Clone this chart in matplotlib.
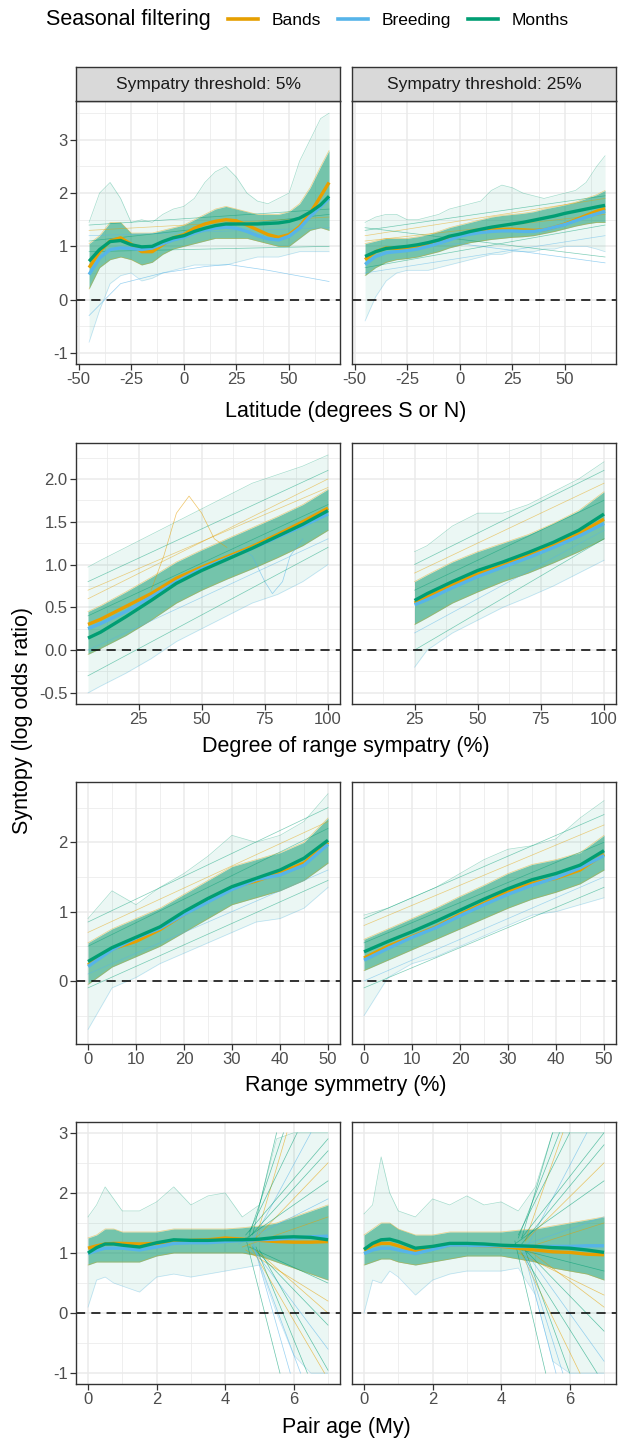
import matplotlib
matplotlib.use('Agg')
import matplotlib.pyplot as plt
from matplotlib.lines import Line2D
import numpy as np

plt.rcParams['font.family'] = ['Liberation Sans', 'DejaVu Sans']

# ---------------- data ----------------
SERIES = ['Bands', 'Breeding', 'Months']
COLORS = {'Bands': '#E69F00', 'Breeding': '#56B4E9', 'Months': '#009E73'}
STRIPS = ['Sympatry threshold: 5%', 'Sympatry threshold: 25%']
XLABELS = ['Latitude (degrees S or N)', 'Degree of range sympatry (%)',
           'Range symmetry (%)', 'Pair age (My)']
YLABEL = 'Syntopy (log odds ratio)'

# Row 1: latitude
lat_x = [-45, -40, -35, -30, -25, -20, -15, -10, -5, 0, 5, 10, 15, 20, 25, 30,
         35, 40, 45, 50, 55, 60, 65, 69]
lat5_bands = [0.6, 0.9, 1.1, 1.16, 1.04, 0.9, 0.9, 1.03, 1.16, 1.22, 1.34, 1.42, 1.47,
              1.5, 1.48, 1.4, 1.31, 1.22, 1.17, 1.22, 1.37, 1.62, 1.94, 2.2]
lat5_breeding = [0.47, 0.78, 0.94, 0.97, 0.96, 0.94, 0.97, 1.05, 1.12, 1.17, 1.25, 1.31,
                 1.34, 1.36, 1.34, 1.28, 1.2, 1.14, 1.12, 1.19, 1.34, 1.56, 1.75, 1.9]
lat5_months = [0.72, 0.94, 1.09, 1.11, 1.03, 0.99, 1.0, 1.09, 1.16, 1.2, 1.28, 1.34, 1.39,
               1.42, 1.42, 1.42, 1.42, 1.43, 1.44, 1.47, 1.53, 1.64, 1.78, 1.94]
lat5_core_lo = [0.2, 0.6, 0.75, 0.8, 0.75, 0.65, 0.7, 0.85, 0.95, 1.0, 1.05, 1.1, 1.15,
                1.15, 1.15, 1.15, 1.1, 1.05, 1.0, 1.0, 1.15, 1.3, 1.35, 1.3]
lat5_core_hi = [1.05, 1.2, 1.45, 1.45, 1.25, 1.25, 1.25, 1.3, 1.35, 1.4, 1.5, 1.6, 1.7,
                1.75, 1.7, 1.65, 1.6, 1.6, 1.6, 1.65, 1.8, 2.1, 2.5, 2.8]
lat5_out_lo = [-0.8, -0.2, 0.3, 0.45, 0.5, 0.35, 0.4, 0.5, 0.55, 0.6, 0.65, 0.65, 0.65,
               0.65, 0.7, 0.75, 0.8, 0.8, 0.8, 0.85, 0.9, 0.9, 0.9, 0.9]
lat5_out_hi = [1.45, 2.0, 2.2, 1.9, 1.45, 1.5, 1.45, 1.6, 1.7, 1.75, 1.9, 2.2, 2.4, 2.5,
               2.3, 2.0, 1.85, 1.8, 1.9, 2.0, 2.6, 3.0, 3.4, 3.5]
lat5_extra_x = [-45, -30, -10, 10, 21, 40, 69]
lat5_extra_y = [-0.3, 0.3, 0.5, 0.62, 0.66, 0.55, 0.34]
lat5_thin_y0 = [1.4, 1.3, 0.9, 1.2, 1.1]
lat5_thin_y1 = [1.7, 1.55, 1.0, 1.35, 1.6]

lat25_bands = [0.75, 0.9, 0.97, 0.96, 0.96, 0.98, 1.03, 1.09, 1.16, 1.22, 1.27, 1.3, 1.32,
               1.32, 1.32, 1.31, 1.3, 1.31, 1.36, 1.42, 1.5, 1.58, 1.66, 1.71]
lat25_breeding = [0.66, 0.81, 0.88, 0.9, 0.92, 0.95, 1.0, 1.06, 1.12, 1.19, 1.23, 1.26,
                  1.28, 1.29, 1.29, 1.28, 1.28, 1.31, 1.36, 1.41, 1.48, 1.55, 1.61, 1.66]
lat25_months = [0.81, 0.9, 0.96, 0.98, 1.0, 1.03, 1.07, 1.12, 1.19, 1.23, 1.28, 1.32, 1.36,
                1.39, 1.42, 1.45, 1.49, 1.53, 1.57, 1.62, 1.66, 1.7, 1.74, 1.77]
lat25_core_lo = [0.45, 0.6, 0.7, 0.75, 0.77, 0.8, 0.85, 0.9, 0.97, 1.02, 1.07, 1.1, 1.13,
                 1.15, 1.17, 1.18, 1.2, 1.24, 1.28, 1.33, 1.38, 1.42, 1.45, 1.45]
lat25_core_hi = [1.05, 1.1, 1.15, 1.15, 1.15, 1.18, 1.22, 1.28, 1.35, 1.4, 1.45, 1.5, 1.55,
                 1.58, 1.6, 1.62, 1.65, 1.7, 1.74, 1.78, 1.83, 1.9, 1.97, 2.05]
lat25_out_lo = [-0.4, 0.05, 0.35, 0.5, 0.55, 0.55, 0.55, 0.6, 0.65, 0.7, 0.75, 0.8, 0.85,
                0.85, 0.9, 0.9, 0.9, 0.95, 0.95, 1.0, 1.0, 1.0, 0.95, 0.9]
lat25_out_hi = [1.45, 1.55, 1.6, 1.6, 1.5, 1.5, 1.55, 1.6, 1.7, 1.75, 1.8, 1.85, 2.05, 2.15,
                2.1, 2.0, 1.95, 1.9, 1.95, 2.0, 2.05, 2.2, 2.5, 2.7]
lat25_extra_x = [-30, 0, 30, 69]
lat25_extra_y = [1.0, 1.05, 0.9, 0.69]
lat25_thin_y0 = [1.3, 1.2, 0.6, 0.5, 1.35, 1.1]
lat25_thin_y1 = [1.95, 1.9, 1.4, 1.2, 0.8, 1.6]

# Row 2: degree of range sympatry
sym5_x = [5, 10, 20, 30, 40, 50, 60, 70, 80, 90, 100]
sym5_bands = [0.3, 0.36, 0.51, 0.66, 0.84, 0.97, 1.09, 1.21, 1.35, 1.5, 1.66]
sym5_breeding = [0.25, 0.31, 0.45, 0.62, 0.8, 0.95, 1.07, 1.19, 1.32, 1.45, 1.59]
sym5_months = [0.14, 0.21, 0.39, 0.58, 0.78, 0.93, 1.06, 1.19, 1.33, 1.47, 1.63]
sym5_core_lo = [-0.05, 0.02, 0.17, 0.35, 0.55, 0.7, 0.83, 0.95, 1.08, 1.22, 1.4]
sym5_core_hi = [0.45, 0.52, 0.68, 0.85, 1.03, 1.17, 1.3, 1.43, 1.56, 1.7, 1.88]
sym5_out_lo = [-0.5, -0.42, -0.27, -0.1, 0.1, 0.25, 0.4, 0.55, 0.65, 0.8, 1.0]
sym5_out_hi = [0.97, 1.05, 1.2, 1.35, 1.5, 1.65, 1.8, 1.95, 2.05, 2.15, 2.28]
sym5_extra_x = [30, 35, 40, 45, 50, 55, 60]
sym5_extra_y = [0.7, 1.1, 1.6, 1.8, 1.6, 1.3, 1.2]
sym5_extra2_x = [65, 70, 75, 78, 82, 85, 90]
sym5_extra2_y = [1.2, 1.1, 0.8, 0.66, 0.8, 1.1, 1.3]
sym5_thin_y0 = [0.8, 0.6, -0.3, 0.0, 0.4, 0.7]
sym5_thin_y1 = [2.1, 2.0, 1.2, 1.3, 1.7, 1.9]

sym25_x = [25, 30, 40, 50, 60, 70, 80, 90, 100]
sym25_bands = [0.55, 0.62, 0.76, 0.89, 0.99, 1.11, 1.23, 1.36, 1.53]
sym25_breeding = [0.53, 0.59, 0.73, 0.86, 0.97, 1.08, 1.2, 1.33, 1.48]
sym25_months = [0.58, 0.66, 0.8, 0.93, 1.03, 1.14, 1.26, 1.4, 1.59]
sym25_core_lo = [0.3, 0.38, 0.55, 0.68, 0.8, 0.9, 1.02, 1.15, 1.3]
sym25_core_hi = [0.8, 0.88, 1.03, 1.15, 1.25, 1.35, 1.48, 1.63, 1.85]
sym25_out_lo = [-0.2, 0.0, 0.2, 0.35, 0.5, 0.62, 0.75, 0.9, 1.05]
sym25_out_hi = [1.15, 1.22, 1.45, 1.6, 1.6, 1.7, 1.85, 2.0, 2.2]
sym25_thin_y0 = [1.0, 0.9, 0.0, 0.2, 0.7]
sym25_thin_y1 = [2.1, 1.95, 1.3, 1.4, 1.75]

# Row 3: range symmetry
rs_x = [0, 5, 10, 15, 20, 25, 30, 35, 40, 45, 50]
rs5_bands = [0.23, 0.46, 0.57, 0.74, 0.96, 1.18, 1.35, 1.44, 1.56, 1.7, 2.0]
rs5_breeding = [0.21, 0.45, 0.62, 0.76, 0.96, 1.14, 1.32, 1.46, 1.53, 1.67, 1.97]
rs5_months = [0.28, 0.48, 0.63, 0.78, 1.0, 1.19, 1.36, 1.48, 1.6, 1.77, 2.03]
rs5_core_lo = [-0.05, 0.2, 0.35, 0.5, 0.7, 0.9, 1.1, 1.2, 1.3, 1.45, 1.7]
rs5_core_hi = [0.55, 0.75, 0.9, 1.05, 1.25, 1.45, 1.65, 1.75, 1.85, 2.0, 2.35]
rs5_out_lo = [-0.7, -0.1, 0.05, 0.25, 0.4, 0.55, 0.7, 0.85, 0.9, 1.05, 1.35]
rs5_out_hi = [0.9, 1.3, 1.1, 1.35, 1.55, 1.8, 2.1, 2.0, 2.1, 2.3, 2.7]
rs5_thin_y0 = [0.85, 0.7, -0.1, 0.1, 0.5]
rs5_thin_y1 = [2.5, 2.3, 1.45, 1.6, 2.2]

rs25_bands = [0.33, 0.5, 0.64, 0.78, 0.96, 1.12, 1.29, 1.41, 1.48, 1.6, 1.83]
rs25_breeding = [0.3, 0.47, 0.63, 0.77, 0.94, 1.1, 1.25, 1.38, 1.49, 1.63, 1.81]
rs25_months = [0.42, 0.57, 0.71, 0.86, 1.02, 1.18, 1.33, 1.46, 1.55, 1.67, 1.88]
rs25_core_lo = [0.15, 0.3, 0.45, 0.6, 0.75, 0.9, 1.05, 1.18, 1.28, 1.4, 1.6]
rs25_core_hi = [0.6, 0.75, 0.9, 1.05, 1.22, 1.38, 1.55, 1.68, 1.75, 1.85, 2.1]
rs25_out_lo = [-0.5, 0.05, 0.25, 0.35, 0.5, 0.65, 0.8, 0.95, 1.0, 1.1, 1.2]
rs25_out_hi = [0.95, 1.05, 1.2, 1.35, 1.55, 1.75, 1.9, 1.95, 2.05, 2.35, 2.6]
rs25_thin_y0 = [0.9, 0.8, -0.1, 0.0, 0.55]
rs25_thin_y1 = [2.4, 2.25, 1.35, 1.5, 2.0]

# Row 4: pair age
age_x = [0, 0.25, 0.5, 0.75, 1, 1.5, 2, 2.5, 3, 3.5, 4, 4.5, 5, 5.5, 6, 6.5, 7]
age5_bands = [1.08, 1.12, 1.15, 1.16, 1.16, 1.15, 1.16, 1.19, 1.21, 1.22, 1.25, 1.23,
              1.21, 1.19, 1.18, 1.18, 1.19]
age5_breeding = [0.99, 1.04, 1.08, 1.08, 1.08, 1.05, 1.1, 1.16, 1.17, 1.17, 1.19, 1.21,
                 1.22, 1.23, 1.25, 1.27, 1.28]
age5_months = [1.0, 1.09, 1.15, 1.15, 1.13, 1.1, 1.17, 1.22, 1.21, 1.21, 1.22, 1.22,
               1.23, 1.26, 1.27, 1.26, 1.22]
age5_core_lo = [0.8, 0.85, 0.85, 0.85, 0.85, 0.85, 0.95, 1.0, 1.0, 1.0, 1.0, 1.0, 0.95,
                0.85, 0.75, 0.65, 0.55]
age5_core_hi = [1.25, 1.3, 1.4, 1.4, 1.35, 1.35, 1.35, 1.4, 1.4, 1.4, 1.4, 1.42, 1.45,
                1.5, 1.6, 1.7, 1.8]
age5_out_lo = [0.1, 0.55, 0.6, 0.5, 0.45, 0.35, 0.6, 0.65, 0.6, 0.65, 0.7, 0.75, 0.8,
               0.0, -0.7, -1.0, -1.0]
age5_out_hi = [1.6, 1.8, 2.1, 1.9, 1.7, 1.7, 1.85, 2.1, 1.8, 1.95, 2.0, 1.6, 1.8, 2.9,
               3.0, 3.0, 3.0]
age5_fan_x0 = [4.8, 4.9, 4.7, 4.8, 4.6, 4.9, 4.5, 4.4, 4.7, 4.6, 4.8, 4.9, 5.0, 4.7, 4.9,
               4.8, 4.6, 4.5, 4.7, 4.8, 4.6, 4.9]
age5_fan_y0 = [1.3, 1.25, 1.35, 1.2, 1.3, 1.25, 1.2, 1.15, 1.1, 1.05, 1.1, 1.0, 1.05,
               1.15, 1.1, 1.2, 1.25, 1.1, 1.3, 1.15, 1.2, 1.05]
age5_fan_x1 = [5.5, 5.8, 6.1, 6.5, 7, 7, 7, 7, 7, 7, 7, 7, 7, 6.9, 6.4, 5.9, 5.6, 7,
               5.7, 6.2, 7, 7]
age5_fan_y1 = [3.0, 3.0, 3.0, 3.0, 2.9, 2.5, 2.2, 1.9, 0.5, 0.2, -0.2, -0.6, -0.95, -1.0,
               -1.0, -1.0, -1.0, 1.6, 3.0, -1.0, 2.7, 0.0]

age25_bands = [1.05, 1.12, 1.16, 1.16, 1.12, 1.02, 1.08, 1.13, 1.13, 1.12, 1.11, 1.08,
               1.05, 1.02, 1.01, 0.98, 0.97]
age25_breeding = [0.99, 1.05, 1.08, 1.08, 1.05, 0.99, 1.06, 1.13, 1.13, 1.12, 1.12, 1.11,
                  1.11, 1.11, 1.11, 1.12, 1.12]
age25_months = [1.06, 1.16, 1.22, 1.23, 1.19, 1.08, 1.11, 1.16, 1.16, 1.15, 1.13, 1.12,
                1.11, 1.09, 1.08, 1.05, 1.01]
age25_core_lo = [0.8, 0.85, 0.9, 0.9, 0.85, 0.8, 0.85, 0.9, 0.95, 0.95, 0.95, 0.9, 0.85,
                 0.75, 0.7, 0.65, 0.55]
age25_core_hi = [1.3, 1.4, 1.5, 1.5, 1.4, 1.3, 1.3, 1.35, 1.35, 1.35, 1.35, 1.38, 1.4,
                 1.45, 1.5, 1.55, 1.6]
age25_out_lo = [0.0, 0.55, 0.5, 0.7, 0.6, 0.3, 0.55, 0.65, 0.7, 0.7, 0.7, 0.75, 0.3, -0.8,
                -1.0, -1.0, -1.0]
age25_out_hi = [1.65, 1.8, 2.6, 2.0, 1.7, 1.6, 1.9, 1.8, 1.95, 1.8, 1.85, 1.7, 2.1, 3.0,
                3.0, 3.0, 3.0]
age25_fan_x0 = [4.6, 4.7, 4.5, 4.8, 4.6, 4.7, 4.4, 4.5, 4.6, 4.5, 4.7, 4.8, 4.6, 4.5, 4.7,
                4.6, 4.4, 4.8, 4.5, 4.7, 4.6, 4.8]
age25_fan_y0 = [1.25, 1.2, 1.3, 1.15, 1.25, 1.2, 1.15, 1.1, 1.05, 1.0, 1.05, 0.95, 1.0,
                1.1, 1.05, 1.15, 1.2, 1.1, 1.25, 1.0, 1.15, 1.05]
age25_fan_x1 = [5.5, 5.8, 6.0, 6.5, 7, 7, 7, 7, 7, 7, 7, 7, 6.8, 6.3, 6.0, 5.6, 5.3, 7,
                5.7, 5.8, 7, 7]
age25_fan_y1 = [3.0, 3.0, 3.0, 3.0, 3.0, 2.5, 2.2, 1.6, 0.7, 0.3, -0.3, -0.8, -1.0, -1.0,
                -1.0, -1.0, -1.0, 1.5, 3.0, -1.0, 2.8, 0.1]

# ---------------- layout ----------------
W, H = 620, 1440
fig = plt.figure(figsize=(W / 100, H / 100), dpi=100)
fig.patch.set_facecolor('white')

def fx(px):
    return px / W

def fy(py):
    return 1 - py / H

col_x = [(76, 340), (352, 616)]
row_y = [(101, 364), (443, 704), (782, 1044), (1122, 1384)]
row_xlabel_y = [411, 746, 1086, 1428]

row_xlim = [(-51.2, 74.2), (0.25, 104.75), (-2.5, 52.5), (-0.35, 7.35)]
row_ylim = [(-1.21, 3.73), (-0.63, 2.42), (-0.91, 2.87), (-1.18, 3.18)]
row_xmaj = [[-50, -25, 0, 25, 50], [25, 50, 75, 100], [0, 10, 20, 30, 40, 50], [0, 2, 4, 6]]
row_xmin = [[-37.5, -12.5, 12.5, 37.5, 62.5], [12.5, 37.5, 62.5, 87.5],
            [5, 15, 25, 35, 45], [1, 3, 5, 7]]
row_ymaj = [[-1, 0, 1, 2, 3], [-0.5, 0.0, 0.5, 1.0, 1.5, 2.0], [0, 1, 2], [-1, 0, 1, 2, 3]]
row_ylab = [['-1', '0', '1', '2', '3'], ['-0.5', '0.0', '0.5', '1.0', '1.5', '2.0'],
            ['0', '1', '2'], ['-1', '0', '1', '2', '3']]
row_ymin = [[-0.5, 0.5, 1.5, 2.5, 3.5], [-0.25, 0.25, 0.75, 1.25, 1.75, 2.25],
            [-0.5, 0.5, 1.5, 2.5], [-0.5, 0.5, 1.5, 2.5]]

panels = [
    [dict(x=lat_x, Bands=lat5_bands, Breeding=lat5_breeding, Months=lat5_months,
          clo=lat5_core_lo, chi=lat5_core_hi, olo=lat5_out_lo, ohi=lat5_out_hi,
          extras=[(lat5_extra_x, lat5_extra_y, 'Breeding')],
          thin=(lat5_thin_y0, lat5_thin_y1)),
     dict(x=lat_x, Bands=lat25_bands, Breeding=lat25_breeding, Months=lat25_months,
          clo=lat25_core_lo, chi=lat25_core_hi, olo=lat25_out_lo, ohi=lat25_out_hi,
          extras=[(lat25_extra_x, lat25_extra_y, 'Breeding')],
          thin=(lat25_thin_y0, lat25_thin_y1))],
    [dict(x=sym5_x, Bands=sym5_bands, Breeding=sym5_breeding, Months=sym5_months,
          clo=sym5_core_lo, chi=sym5_core_hi, olo=sym5_out_lo, ohi=sym5_out_hi,
          extras=[(sym5_extra_x, sym5_extra_y, 'Bands'),
                  (sym5_extra2_x, sym5_extra2_y, 'Breeding')],
          thin=(sym5_thin_y0, sym5_thin_y1)),
     dict(x=sym25_x, Bands=sym25_bands, Breeding=sym25_breeding, Months=sym25_months,
          clo=sym25_core_lo, chi=sym25_core_hi, olo=sym25_out_lo, ohi=sym25_out_hi,
          extras=[], thin=(sym25_thin_y0, sym25_thin_y1))],
    [dict(x=rs_x, Bands=rs5_bands, Breeding=rs5_breeding, Months=rs5_months,
          clo=rs5_core_lo, chi=rs5_core_hi, olo=rs5_out_lo, ohi=rs5_out_hi, extras=[],
          thin=(rs5_thin_y0, rs5_thin_y1)),
     dict(x=rs_x, Bands=rs25_bands, Breeding=rs25_breeding, Months=rs25_months,
          clo=rs25_core_lo, chi=rs25_core_hi, olo=rs25_out_lo, ohi=rs25_out_hi, extras=[],
          thin=(rs25_thin_y0, rs25_thin_y1))],
    [dict(x=age_x, Bands=age5_bands, Breeding=age5_breeding, Months=age5_months,
          clo=age5_core_lo, chi=age5_core_hi, olo=age5_out_lo, ohi=age5_out_hi, extras=[],
          fan=(age5_fan_x0, age5_fan_y0, age5_fan_x1, age5_fan_y1)),
     dict(x=age_x, Bands=age25_bands, Breeding=age25_breeding, Months=age25_months,
          clo=age25_core_lo, chi=age25_core_hi, olo=age25_out_lo, ohi=age25_out_hi, extras=[],
          fan=(age25_fan_x0, age25_fan_y0, age25_fan_x1, age25_fan_y1))],
]

EDGE = '#333333'
TICKC = '#4D4D4D'
cycle = ['Months', 'Bands', 'Months', 'Breeding']

for r in range(4):
    y0, y1 = row_y[r]
    for c in range(2):
        x0, x1 = col_x[c]
        ax = fig.add_axes([fx(x0), fy(y1), fx(x1) - fx(x0), (y1 - y0) / H])
        p = panels[r][c]
        ax.set_xlim(*row_xlim[r])
        ax.set_ylim(*row_ylim[r])
        # grid
        for v in row_xmin[r]:
            ax.axvline(v, color='#EBEBEB', lw=0.55, zorder=0)
        for v in row_ymin[r]:
            ax.axhline(v, color='#EBEBEB', lw=0.55, zorder=0)
        for v in row_xmaj[r]:
            ax.axvline(v, color='#EBEBEB', lw=1.1, zorder=0)
        for v in row_ymaj[r]:
            ax.axhline(v, color='#EBEBEB', lw=1.1, zorder=0)
        x = p['x']
        ax.fill_between(x, p['olo'], p['ohi'], color='#009E73', alpha=0.08, lw=0, zorder=1)
        ax.fill_between(x, p['clo'], p['chi'], color='#1E9F77', alpha=0.58, lw=0, zorder=2)
        ax.plot(x, p['olo'], color=COLORS['Breeding'], lw=0.5, alpha=0.35, zorder=3)
        ax.plot(x, p['ohi'], color=COLORS['Months'], lw=0.5, alpha=0.35, zorder=3)
        ax.plot(x, p['clo'], color=COLORS['Bands'], lw=0.5, alpha=0.45, zorder=3)
        ax.plot(x, p['chi'], color=COLORS['Bands'], lw=0.5, alpha=0.45, zorder=3)
        for ex, ey, s in p['extras']:
            ax.plot(ex, ey, color=COLORS[s], lw=0.5, alpha=0.6, zorder=3)
        if 'thin' in p:
            ty0, ty1 = p['thin']
            for i in range(len(ty0)):
                ax.plot([x[0], x[-1]], [ty0[i], ty1[i]], color=COLORS[cycle[i % 4]],
                        lw=0.5, alpha=0.5, zorder=3)
        if 'fan' in p:
            fx0, fy0, fx1, fy1 = p['fan']
            for i in range(len(fx0)):
                ax.plot([fx0[i], fx1[i]], [fy0[i], fy1[i]],
                        color=COLORS[cycle[i % 4]], lw=0.5, alpha=0.6, zorder=3)
        for s in SERIES:
            ax.plot(x, p[s], color=COLORS[s], lw=2.4, zorder=5, solid_capstyle='butt')
        ax.axhline(0, color='black', lw=1.1, ls=(0, (6, 4)), zorder=6)
        ax.set_xticks(row_xmaj[r])
        ax.set_xticklabels([str(v) for v in row_xmaj[r]])
        ax.tick_params(axis='x', length=4, width=0.9, color=EDGE, labelsize=12,
                       labelcolor=TICKC, pad=2)
        if c == 0:
            ax.set_yticks(row_ymaj[r])
            ax.set_yticklabels(row_ylab[r])
            ax.tick_params(axis='y', length=4, width=0.9, color=EDGE, labelsize=12,
                           labelcolor=TICKC, pad=2)
        else:
            ax.set_yticks([])
        for sp in ax.spines.values():
            sp.set_color(EDGE)
            sp.set_linewidth(1.0)
            sp.set_zorder(7)
        if r == 0:
            sax = fig.add_axes([fx(x0), fy(y0), fx(x1) - fx(x0), 34 / H])
            sax.set_facecolor('#D9D9D9')
            sax.set_xticks([])
            sax.set_yticks([])
            for sp in sax.spines.values():
                sp.set_color(EDGE)
                sp.set_linewidth(1.0)
            sax.text(0.5, 0.5, STRIPS[c], ha='center', va='center', fontsize=12.5,
                     color='#1A1A1A', transform=sax.transAxes)
    fig.text(fx(346), fy(row_xlabel_y[r]), XLABELS[r], ha='center', va='center',
             fontsize=15.5, color='black')

fig.text(fx(23), fy(720), YLABEL, rotation=90, ha='center', va='center',
         fontsize=15.5, color='black')

# legend
fig.text(fx(46), fy(20), 'Seasonal filtering', ha='left', va='center', fontsize=15.5)
handles = [Line2D([], [], color=COLORS[s], lw=2.6) for s in SERIES]
fig.legend(handles, SERIES, loc='center left', bbox_to_anchor=(fx(228), fy(20)),
           ncol=3, frameon=False, fontsize=12.5, handlelength=1.7, handletextpad=0.8,
           columnspacing=1.0, borderaxespad=0, borderpad=0)

fig.savefig('out.png', dpi=100, facecolor='white')
